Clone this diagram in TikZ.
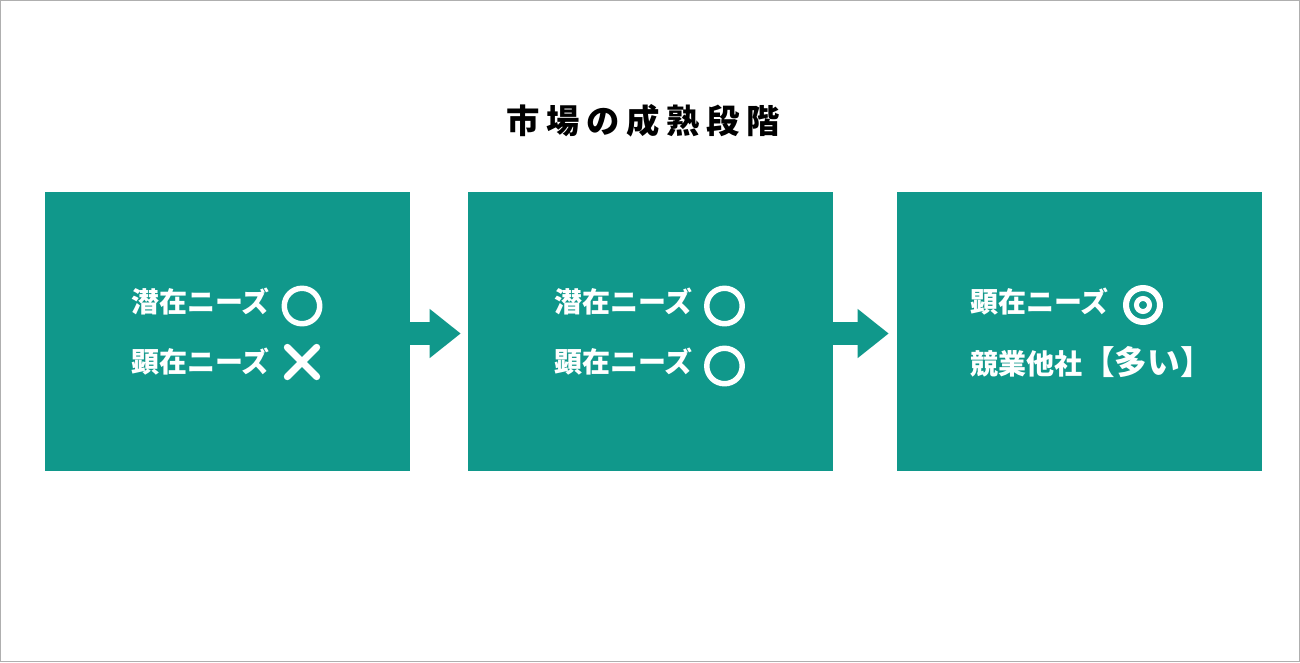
\documentclass[tikz,border=0pt]{standalone}
\usepackage{fontspec}
\setmainfont{Noto Sans CJK JP}
\usetikzlibrary{arrows.meta,calc}
\definecolor{teal1}{RGB}{16,152,139}
\definecolor{frame}{RGB}{175,175,175}
\begin{document}
\begin{tikzpicture}[x=0.75pt,y=-0.75pt,
  box/.style={fill=teal1,draw=none,minimum width=273.75pt,minimum height=209.25pt,inner sep=0pt},
  lbl/.style={text=white,font=\fontsize{21pt}{21pt}\selectfont\bfseries,anchor=west,inner sep=0pt},
  sym/.style={white,line width=4.1pt},
  flow/.style={teal1,line width=17.25pt,-{Triangle[length=23.25pt,width=35.25pt]}}
]
\useasboundingbox (0,0) rectangle (1300,662);
\draw[frame,line width=0.75pt] (0.5,0.5) rectangle (1299.5,661.5);

\node[font=\fontsize{25pt}{25pt}\selectfont\bfseries\addfontfeatures{LetterSpace=20},inner sep=0pt] (title) at (643,120.5) {市場の成熟段階};

\node[box] (b1) at (227.5,331.5) {};
\node[box] (b2) at (650.5,331.5) {};
\node[box] (b3) at (1079.5,331.5) {};

% arrows
\coordinate (e1) at ($(b2.west)+(-5.25pt,0)$);
\coordinate (e2) at ($(b3.west)+(-6pt,0)$);
\draw[flow] ($(b1.east)+(0,-1.5pt)$) -- ($(e1)+(0,-1.5pt)$);
\draw[flow] ($(b2.east)+(0,-1.5pt)$) -- ($(e2)+(0,-1.5pt)$);

% box 1
\node[lbl] (t1a) at (131,302) {潜在ニーズ};
\node[lbl] (t1b) at (131,362) {顕在ニーズ};
\draw[sym] (302,306) circle[radius=13.3pt];
\coordinate (x1) at (302,362);
\draw[white,line width=5.25pt,line cap=round] ($(x1)+(-11pt,-11pt)$) -- ($(x1)+(11pt,11pt)$);
\draw[white,line width=5.25pt,line cap=round] ($(x1)+(-11pt,11pt)$) -- ($(x1)+(11pt,-11pt)$);

% box 2
\node[lbl] (t2a) at (554,302) {潜在ニーズ};
\node[lbl] (t2b) at (554,362) {顕在ニーズ};
\draw[sym] (724.5,306) circle[radius=13.3pt];
\draw[sym] (724.5,366) circle[radius=13.3pt];

% box 3
\node[lbl] (t3a) at (970,302) {顕在ニーズ};
\node[lbl] (t3b) at (970,362) {競業他社{\fontsize{24.5pt}{24.5pt}\selectfont【多い】}};
\draw[white,line width=4.5pt] (1143,305) circle[radius=12.75pt];
\draw[white,line width=3.75pt] (1143,305) circle[radius=4.9pt];
\end{tikzpicture}
\end{document}
